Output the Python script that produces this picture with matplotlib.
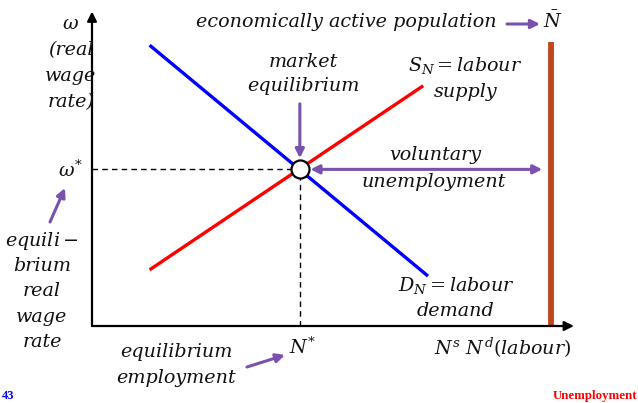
import matplotlib
matplotlib.use("Agg")
import matplotlib.pyplot as plt

plt.rcParams['mathtext.fontset'] = 'dejavuserif'
plt.rcParams['font.family'] = ['DejaVu Serif']

# ---- data (conceptual units: labour 0..100, wage 0..100) ----
demand_N = [12.0, 70.0]
demand_w = [90.0, 16.0]
supply_N = [12.0, 69.0]
supply_w = [18.0, 77.0]
eq_N = 43.3
eq_w = 50.2
pop_N = 95.6
pop_w = [0.3, 91.0]

W, H = 638, 403
fig = plt.figure(figsize=(W / 100, H / 100), dpi=100)
ax = fig.add_axes([0, 0, 1, 1])
# pixel mapping: origin at (92,326), 4.8 px per N unit, 3.12 px per w unit
ax.set_xlim(-92 / 4.8, (W - 92) / 4.8)
ax.set_ylim((326 - H) / 3.12, 326 / 3.12)
ax.axis('off')

def F(px, py):
    return (px / W, 1 - py / H)

txt = dict(fontsize=13.8, color='#111111', ha='center', va='center',
           transform=fig.transFigure)
purple = '#7A52AE'

# axes with arrows
ax.annotate('', xy=(100.4, 0), xytext=(0, 0),
            arrowprops=dict(arrowstyle='-|>', color='black', lw=1.6, mutation_scale=14,
                            shrinkA=0, shrinkB=0))
ax.annotate('', xy=(0, 100.8), xytext=(0, 0),
            arrowprops=dict(arrowstyle='-|>', color='black', lw=1.6, mutation_scale=14,
                            shrinkA=0, shrinkB=0))

# curves
ax.plot(demand_N, demand_w, color='#0000FF', lw=2.4, solid_capstyle='butt')
ax.plot(supply_N, supply_w, color='#FF0000', lw=2.4, solid_capstyle='butt')

# dashed guides
ax.plot([0, eq_N], [eq_w, eq_w], color='black', lw=1.0, ls=(0, (4, 3)))
ax.plot([eq_N, eq_N], [0, eq_w], color='black', lw=1.0, ls=(0, (4, 3)))

# population bar
ax.plot([pop_N, pop_N], pop_w, color='#C0461D', lw=4.2, solid_capstyle='butt')

# equilibrium point
ax.plot([eq_N], [eq_w], marker='o', ms=13, mfc='white', mec='black', mew=1.6, zorder=5)

# purple arrows
ap = dict(arrowstyle='-|>', color=purple, lw=2.2, mutation_scale=13, shrinkA=0, shrinkB=0)
ax.annotate('', xy=(eq_N, eq_w + 3.6), xytext=(eq_N, eq_w + 21), arrowprops=ap)
ax.annotate('', xy=(eq_N + 2.2, eq_w), xytext=(pop_N - 1.8, eq_w),
            arrowprops=dict(arrowstyle='<|-|>', color=purple, lw=2.2, mutation_scale=13,
                            shrinkA=0, shrinkB=0))
ax.annotate('', xy=F(540, 24), xytext=F(507, 24), xycoords='figure fraction',
            textcoords='figure fraction', arrowprops=ap)
ax.annotate('', xy=F(65, 188), xytext=F(50, 222), xycoords='figure fraction',
            textcoords='figure fraction', arrowprops=ap)
ax.annotate('', xy=F(285, 355), xytext=F(247, 367), xycoords='figure fraction',
            textcoords='figure fraction', arrowprops=ap)

# texts
for s, y in [(r'$\omega$', 24), ('(real', 50), ('wage', 76), ('rate)', 102)]:
    fig.text(*F(71, y), s, style='italic', **txt)
fig.text(*F(346, 22), 'economically active population', style='italic', **txt)
fig.text(*F(553, 21), r'$\bar{N}$', **txt)
fig.text(*F(303, 62), 'market', style='italic', **txt)
fig.text(*F(303, 86), 'equilibrium', style='italic', **txt)
fig.text(*F(465, 66), r'$S_N = labour$', **txt)
fig.text(*F(466, 92), 'supply', style='italic', **txt)
fig.text(*F(435, 155), 'voluntary', style='italic', **txt)
fig.text(*F(434, 182), 'unemployment', style='italic', **txt)
fig.text(*F(70, 170), r'$\omega^{*}$', **txt)
for s, y in [(r'$equili-$', 241), ('brium', 266), ('real', 291), ('wage', 317), ('rate', 342)]:
    fig.text(*F(42, y), s, style='italic', **txt)
fig.text(*F(456, 286), r'$D_N = labour$', **txt)
fig.text(*F(456, 311), 'demand', style='italic', **txt)
fig.text(*F(302, 347), r'$N^{*}$', **txt)
fig.text(*F(176, 352), 'equilibrium', style='italic', **txt)
fig.text(*F(176, 378), 'employment', style='italic', **txt)
fig.text(*F(503, 348), r'$N^s\ N^d(labour)$', **txt)

fig.text(*F(2, 396), '43', fontsize=9, fontweight='bold', color='#0000FF',
         ha='left', va='center', family='Liberation Serif', transform=fig.transFigure)
fig.text(*F(637, 396), 'Unemployment', fontsize=9.3, fontweight='bold', color='#FF0000',
         ha='right', va='center', family='Liberation Serif', transform=fig.transFigure)

fig.savefig('out.png', dpi=100)
